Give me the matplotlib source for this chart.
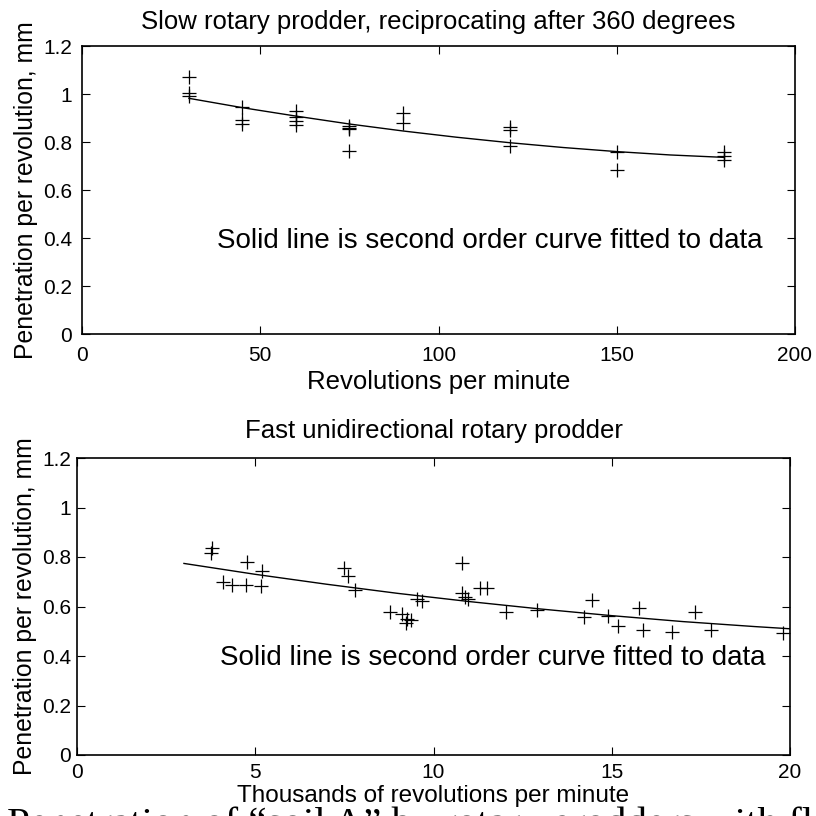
import matplotlib
matplotlib.use("Agg")
import matplotlib.pyplot as plt

plt.rcParams['font.family'] = ['Liberation Sans', 'DejaVu Sans']

# ---------------- data: slow rotary prodder ----------------
slow_rpm = [30, 30, 30,
            45, 45, 45,
            60, 60, 60, 60,
            75, 75, 75, 75,
            90, 90,
            120, 120, 120,
            150, 150,
            180, 180, 180]
slow_pen = [1.07, 1.005, 0.99,
            0.945, 0.89, 0.875,
            0.93, 0.905, 0.888, 0.872,
            0.868, 0.86, 0.855, 0.762,
            0.922, 0.88,
            0.862, 0.848, 0.783,
            0.76, 0.683,
            0.76, 0.742, 0.725]
slow_fit_x = [30, 45, 60, 75, 90, 105, 120, 135, 150, 165, 180]
slow_fit_y = [0.982, 0.943, 0.908, 0.875, 0.846, 0.820, 0.797, 0.777, 0.760, 0.746, 0.736]

# ---------------- data: fast unidirectional rotary prodder ----------------
fast_krpm = [3.80, 3.76, 4.76, 5.18, 4.09, 4.36, 4.73, 5.15,
             7.50, 7.59, 7.80, 8.78, 9.11, 9.27, 9.23, 9.37, 9.53, 9.67,
             10.79, 10.79, 10.88, 10.98, 11.30, 11.49, 12.03, 12.89,
             14.22, 14.45, 14.90, 15.18, 15.76, 15.87, 16.70, 17.34, 17.78, 19.81]
fast_pen = [0.835, 0.815, 0.781, 0.745, 0.700, 0.687, 0.687, 0.683,
            0.754, 0.723, 0.667, 0.579, 0.570, 0.548, 0.535, 0.545, 0.629, 0.622,
            0.777, 0.656, 0.637, 0.629, 0.676, 0.676, 0.579, 0.586,
            0.559, 0.626, 0.561, 0.521, 0.595, 0.507, 0.498, 0.576, 0.507, 0.494]
fast_fit_x = [3, 5, 7, 9, 11, 13, 15, 17, 19, 20]
fast_fit_y = [0.774, 0.730, 0.690, 0.653, 0.620, 0.590, 0.563, 0.539, 0.519, 0.510]

yticks = [0, 0.2, 0.4, 0.6, 0.8, 1.0, 1.2]
yticklabels = ['0', '0.2', '0.4', '0.6', '0.8', '1', '1.2']
slow_xticks = [0, 50, 100, 150, 200]
fast_xticks = [0, 5, 10, 15, 20]

title_top = 'Slow rotary prodder, reciprocating after 360 degrees'
title_bot = 'Fast unidirectional rotary prodder'
xlabel_top = 'Revolutions per minute'
xlabel_bot = 'Thousands of revolutions per minute'
ylabel = 'Penetration per revolution, mm'
note = 'Solid line is second order curve fitted to data'
caption = 'Penetration of \u201csoil A\u201d by rotary prodders with flat'

W = H = 816.0
fig = plt.figure(figsize=(8.16, 8.16), dpi=100)

def px_axes(l, t, r, b):
    return fig.add_axes([l / W, (H - b) / H, (r - l) / W, (b - t) / H])

ax1 = px_axes(82, 46, 795, 334)
ax2 = px_axes(77, 458, 790, 755)

def style(ax, xticks, xlim, xpad, ypad):
    ax.set_xlim(*xlim)
    ax.set_ylim(0, 1.2)
    ax.set_xticks(xticks)
    ax.set_xticklabels([str(v) for v in xticks])
    ax.set_yticks(yticks)
    ax.set_yticklabels(yticklabels)
    ax.tick_params(direction='in', length=6, width=0.8, top=True, right=True,
                   labelsize=15, colors='black')
    ax.tick_params(axis='x', pad=xpad)
    ax.tick_params(axis='y', pad=ypad)
    for s in ax.spines.values():
        s.set_linewidth(1.2)
        s.set_color('black')

# top plot
ax1.plot(slow_rpm, slow_pen, linestyle='none', marker='+', markersize=10,
         markeredgewidth=0.9, color='black')
ax1.plot(slow_fit_x, slow_fit_y, '-', color='black', linewidth=1.0)
style(ax1, slow_xticks, (0, 200), 8.5, 7.2)
ax1.set_title(title_top, fontsize=18.5, pad=12)
ax1.set_xlabel(xlabel_top, fontsize=18.5)
ax1.xaxis.set_label_coords(0.5, (334 - 370) / 288.0)
ax1.set_ylabel(ylabel, fontsize=17.8)
ax1.yaxis.set_label_coords((38 - 82) / 713.0, 0.5)
ax1.text(37.8, 0.357, note, fontsize=20, ha='left', va='baseline')

# bottom plot
ax2.plot(fast_krpm, fast_pen, linestyle='none', marker='+', markersize=10,
         markeredgewidth=0.9, color='black')
ax2.plot(fast_fit_x, fast_fit_y, '-', color='black', linewidth=1.0)
style(ax2, fast_xticks, (0, 20), 6.0, 4.3)
ax2.set_title(title_bot, fontsize=18.5, pad=14.2)
ax2.set_xlabel(xlabel_bot, fontsize=17.5)
ax2.xaxis.set_label_coords(0.5, (755 - 785) / 297.0)
ax2.set_ylabel(ylabel, fontsize=17.8)
ax2.yaxis.set_label_coords((37 - 77) / 713.0, 0.5)
ax2.text(4.01, 0.364, note, fontsize=20, ha='left', va='baseline')

# clipped caption at the very bottom
fig.text(7 / W, (H - 835) / H, caption, fontsize=29.5,
         family=['Liberation Serif', 'DejaVu Serif'], ha='left', va='baseline')

fig.savefig('out.png', dpi=100)
